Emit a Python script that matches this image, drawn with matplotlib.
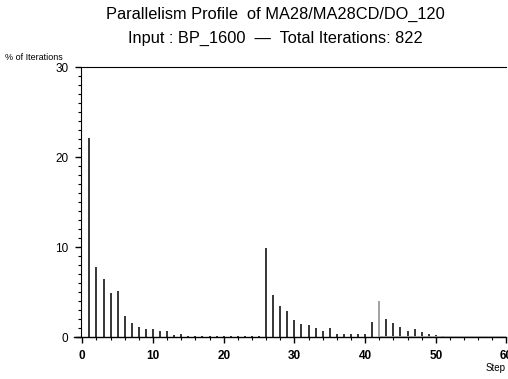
import matplotlib.pyplot as plt
import numpy as np

plt.rcParams['font.family'] = ['Liberation Sans', 'DejaVu Sans']

# percentage of iterations per step
steps = list(range(1, 61))
pct = [22.2, 7.8, 6.5, 4.95, 5.2, 2.4, 1.6, 1.1, 0.9, 0.9,
       0.67, 0.75, 0.3, 0.35, 0.1, 0.1, 0.1, 0.1, 0.1, 0.1,
       0.1, 0.1, 0.1, 0.1, 0.1, 9.9, 4.67, 3.5, 2.95, 1.9,
       1.5, 1.37, 1.0, 0.7, 1.03, 0.33, 0.33, 0.33, 0.33, 0.33,
       1.73, 4.0, 2.07, 1.6, 1.1, 0.73, 0.92, 0.55, 0.4, 0.22,
       0.1, 0.05, 0.05, 0.05, 0.05, 0.05, 0.05, 0.05, 0.05, 0.05]
gray_steps = [42]
title1 = "Parallelism Profile  of MA28/MA28CD/DO_120"
title2 = "Input : BP_1600  \u2014  Total Iterations: 822"

fig = plt.figure(figsize=(5.08, 3.79), dpi=100)
ax = fig.add_axes([0.162, 0.110, 0.835, 0.7124])

cols = ['#888888' if s in gray_steps else 'black' for s in steps]
ax.vlines(steps, 0, pct, colors=cols, linewidth=1.1)
ax.axhline(0, color='black', linewidth=1.0, xmin=-0.02, clip_on=False)
# gray tail along baseline
tail = [i for i, s in enumerate(steps) if s >= 42]
ax.plot([steps[i] for i in tail], [0.08] * len(tail), color='#999999', linewidth=2)

ax.set_xlim(0, 60)
ax.set_ylim(0, 30)
ax.set_xticks(np.arange(0, 61, 10))
ax.set_xticks(np.arange(0, 61, 2), minor=True)
ax.set_yticks(np.arange(0, 31, 10))
ax.set_yticks(np.arange(0, 31, 1), minor=True)
ax.tick_params(which='major', length=4, width=1, labelsize=8.5, pad=5)
ax.tick_params(which='minor', length=2, width=0.8)
for lab in ax.get_xticklabels() + ax.get_yticklabels():
    lab.set_fontweight('bold')
ax.spines['right'].set_visible(False)
ax.spines['bottom'].set_visible(False)
ax.spines['left'].set_position(('outward', 1))

fig.text(0.543, 0.962, title1, ha='center', va='center', fontsize=11.8)
fig.text(0.543, 0.899, title2, ha='center', va='center', fontsize=11.8)
fig.text(0.01, 0.848, "% of Iterations", ha='left', va='center', fontsize=6.5)
fig.text(0.995, 0.03, "Step", ha='right', va='center', fontsize=7)

fig.savefig('out.png', dpi=100)
